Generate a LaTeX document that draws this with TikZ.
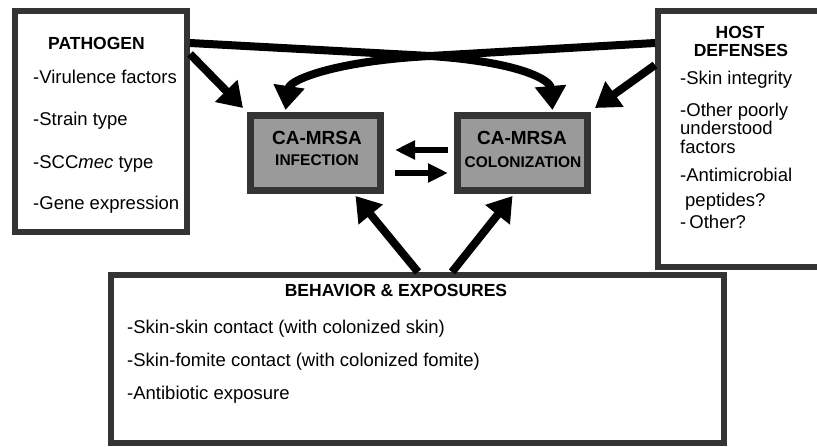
\documentclass[tikz,border=0pt]{standalone}
\usepackage{fontspec}
\setmainfont{Liberation Sans}
\usetikzlibrary{arrows.meta,calc}
\begin{document}
\begin{tikzpicture}[x=1pt,y=-1pt,
  outerbox/.style={draw=boxgray,line width=6pt,rectangle,inner sep=0pt,fill=white},
  corebox/.style={draw=boxgray,line width=7pt,rectangle,inner sep=0pt,fill=coregray,minimum width=130pt,minimum height=75pt},
  bigarrow/.style={line width=8pt,-{Triangle[length=24pt,width=30pt]}},
  smallarrow/.style={line width=6pt,-{Triangle[length=20pt,width=18pt]}},
  ttl/.style={font=\fontsize{17.5}{19}\selectfont\bfseries,inner sep=0pt,anchor=base},
  itm/.style={font=\fontsize{18.5}{20}\selectfont,inner sep=0pt,anchor=base west},
  captxt/.style={font=\fontsize{19}{20}\selectfont\bfseries,inner sep=0pt,anchor=base},
  captxtb/.style={font=\fontsize{15.5}{18}\selectfont\bfseries,inner sep=0pt,anchor=base}]
\definecolor{boxgray}{RGB}{52,52,52}
\definecolor{coregray}{RGB}{154,154,154}
\useasboundingbox (0,0) rectangle (817,447);
\fill[white] (0,0) rectangle (817,447);
\clip (0,0) rectangle (817,447);

% boxes
\node[outerbox,minimum width=172pt,minimum height=221pt] (path) at (101,121.5) {};
\node[outerbox,minimum width=172pt,minimum height=256pt] (host) at (744,139) {};
\node[outerbox,minimum width=613pt,minimum height=168pt] (beh) at (417.5,359) {};
\node[corebox] (inf) at (315.5,153) {};
\node[corebox] (col) at (522.5,153) {};

% pathogen text
\node[ttl,anchor=base west] (pt) at (48,49) {PATHOGEN};
\node[itm] (p1) at (33,83) {-Virulence factors};
\node[itm] (p2) at (33,125) {-Strain type};
\node[itm] (p3) at (33,168) {-SCC\textit{mec} type};
\node[itm] (p4) at (33,209) {-Gene expression};

% host text
\node[ttl] (ht1) at (740,38) {HOST};
\node[ttl] (ht2) at (741,56) {DEFENSES};
\node[itm] (h1) at (680,84) {-Skin integrity};
\node[itm] (h2) at (680,116) {-Other poorly};
\node[itm] (h3) at (680,134) {understood};
\node[itm] (h4) at (680,153) {factors};
\node[itm] (h5) at (680,181) {-Antimicrobial};
\node[itm] (h6) at (685,206) {peptides?};
\node[itm] (h7) at (680,228) {-\,Other?};

% behaviour text
\node[ttl] (bt) at (396,296) {BEHAVIOR \& EXPOSURES};
\node[itm] (b1) at (127,333) {-Skin-skin contact (with colonized skin)};
\node[itm] (b2) at (127,366) {-Skin-fomite contact (with colonized fomite)};
\node[itm] (b3) at (127,399) {-Antibiotic exposure};

% core text
\node[captxt] (i1) at (317,144) {CA-MRSA};
\node[captxtb] (i2) at (317,165) {INFECTION};
\node[captxt] (c1) at (522,144) {CA-MRSA};
\node[captxtb] (c2) at (523,167) {COLONIZATION};

% straight arrows from sides
\draw[bigarrow] ([yshift=-46pt]path.north east) -- ([xshift=-4pt,yshift=4pt]inf.north west);
\draw[bigarrow] ([yshift=-57pt]host.north west) -- ([xshift=4pt,yshift=4pt]col.north east);

% crossing curved arrows
\draw[bigarrow] ([yshift=-35pt]path.north east) -- (430,56) .. controls (520,62) and (550,80) .. ([xshift=30pt,yshift=2pt]col.north);
\draw[bigarrow] ([yshift=-35pt]host.north west) -- (430,56) .. controls (335,61) and (290,80) .. ([xshift=-30pt,yshift=2pt]inf.north);

% bottom arrows
\draw[bigarrow] ([xshift=0.5pt]beh.north) -- ([xshift=40pt,yshift=-2pt]inf.south);
\draw[bigarrow] ([xshift=34.5pt]beh.north) -- ([xshift=-10pt,yshift=-2pt]col.south);

% small exchange arrows
\draw[smallarrow] ([xshift=-6pt,yshift=3pt]col.west) -- ([xshift=11pt,yshift=3pt]inf.east);
\draw[smallarrow] ([xshift=11pt,yshift=-20pt]inf.east) -- ([xshift=-6pt,yshift=-20pt]col.west);
\end{tikzpicture}
\end{document}
